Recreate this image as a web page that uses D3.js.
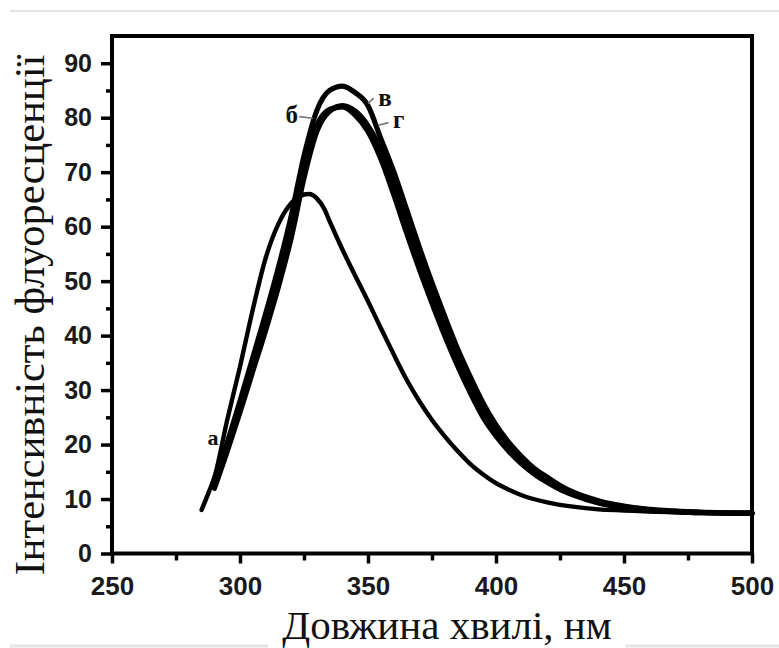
<!DOCTYPE html>
<html><head><meta charset="utf-8">
<script src="https://cdn.jsdelivr.net/npm/d3@7"></script>
<style>html,body{margin:0;padding:0;background:#fff;}svg{display:block;}</style>
</head><body>
<svg id="chart" width="779" height="648"></svg>
<script>
// ---- data ----
const xTicks = [250, 300, 350, 400, 450, 500];
const xMinor = [275, 325, 375, 425, 475];
const yTicks = [0, 10, 20, 30, 40, 50, 60, 70, 80, 90];
const yMinor = [5, 15, 25, 35, 45, 55, 65, 75, 85];
const xTitle = "Довжина хвилі, нм";
const yTitle = "Інтенсивність флуоресценції";

const wlA   = [285, 288, 290, 295, 300, 305, 310, 315, 320, 325, 327, 330, 333, 335, 340, 345, 350, 355, 360, 365, 370, 375, 380, 385, 390, 395, 400, 405, 410, 420, 430, 440, 450, 460, 480, 500];
const valA  = [8.0, 11.5, 14.0, 24.5, 34.3, 44.8, 54.2, 60.5, 64.3, 65.9, 66.0, 65.2, 63.2, 61.0, 55.8, 51.0, 46.3, 41.4, 36.6, 32.0, 28.0, 24.5, 21.5, 18.8, 16.4, 14.5, 12.9, 11.7, 10.7, 9.4, 8.6, 8.1, 7.9, 7.7, 7.5, 7.4];

const wlB   = [290, 295, 300, 305, 310, 315, 320, 325, 330, 335, 340, 345, 350, 355, 360, 365, 370, 375, 380, 385, 390, 395, 400, 405, 410, 415, 420, 425, 430, 440, 450, 460, 470, 480, 500];
const valB  = [12.5, 19.5, 27.0, 34.5, 42.0, 50.0, 59.0, 70.0, 78.5, 81.5, 82.0, 80.5, 77.5, 72.5, 66.0, 59.0, 52.3, 46.0, 40.0, 34.5, 29.5, 25.0, 21.6, 18.8, 16.5, 14.6, 13.1, 11.8, 10.8, 9.3, 8.4, 7.9, 7.7, 7.5, 7.4];
const valG  = [12.0, 18.8, 26.0, 33.5, 41.0, 49.0, 58.0, 69.0, 77.5, 81.2, 82.2, 81.2, 78.5, 74.2, 68.3, 61.4, 54.5, 48.0, 41.9, 36.3, 31.2, 26.5, 22.7, 19.7, 17.3, 15.2, 13.6, 12.2, 11.1, 9.5, 8.6, 8.0, 7.7, 7.5, 7.4];
const valV  = [13.0, 20.3, 28.0, 36.0, 44.0, 52.5, 62.0, 73.0, 81.3, 85.0, 85.8, 84.6, 82.2, 76.2, 70.2, 63.3, 56.3, 49.7, 43.5, 37.6, 32.4, 27.6, 23.6, 20.4, 17.8, 15.6, 14.0, 12.5, 11.3, 9.7, 8.7, 8.1, 7.8, 7.6, 7.4];

const labels = [
  {text: "а", x: 289.5, y: 21.3, size: 22},
  {text: "б", x: 320.2, y: 80.6, size: 25},
  {text: "в", x: 356.6, y: 83.8, size: 25},
  {text: "г", x: 362.0, y: 79.7, size: 25}
];
const leaders = [
  {x1: 323.2, y1: 80.2, x2: 328.4, y2: 79.9},
  {x1: 350.0, y1: 82.6, x2: 352.2, y2: 83.6},
  {x1: 354.0, y1: 78.6, x2: 358.0, y2: 79.1}
];

// ---- drawing ----
const svg = d3.select("#chart");
const x = d3.scaleLinear().domain([250, 500]).range([112, 752]);
const y = d3.scaleLinear().domain([0, 95]).range([553.5, 36]);

// faint scan lines
svg.append("line").attr("x1", 10).attr("x2", 779).attr("y1", 11).attr("y2", 11)
  .attr("stroke", "#e4e4e4").attr("stroke-width", 2);
svg.append("line").attr("x1", 10).attr("x2", 779).attr("y1", 646).attr("y2", 646)
  .attr("stroke", "#e4e4e4").attr("stroke-width", 3);

const line = d3.line().curve(d3.curveMonotoneX).x(d => x(d[0])).y(d => y(d[1]));
const curves = [
  {wl: wlA, v: valA, w: 4.4},
  {wl: wlB, v: valB, w: 5.4},
  {wl: wlB, v: valG, w: 5.4},
  {wl: wlB, v: valV, w: 5.2}
];
svg.append("g").selectAll("path").data(curves).join("path")
  .attr("d", c => line(c.wl.map((w, i) => [w, c.v[i]])))
  .attr("fill", "none").attr("stroke", "#000")
  .attr("stroke-width", c => c.w).attr("stroke-linejoin", "round").attr("stroke-linecap", "round");

// leaders
svg.append("g").selectAll("line").data(leaders).join("line")
  .attr("x1", d => x(d.x1)).attr("y1", d => y(d.y1))
  .attr("x2", d => x(d.x2)).attr("y2", d => y(d.y2))
  .attr("stroke", "#777").attr("stroke-width", 1.6);

svg.append("g").selectAll("text").data(labels).join("text")
  .attr("x", d => x(d.x)).attr("y", d => y(d.y))
  .attr("text-anchor", "middle").attr("dominant-baseline", "central")
  .attr("font-family", "Liberation Serif, serif").attr("font-weight", "bold")
  .attr("font-size", d => d.size).attr("fill", "#111")
  .text(d => d.text);

// axes
const tickFont = "Liberation Sans, Arial, sans-serif";
const xAxis = svg.append("g").attr("transform", `translate(0,${y(0)})`)
  .call(d3.axisBottom(x).tickValues(xTicks).tickSize(10).tickPadding(13).tickFormat(d3.format("d")));
const xAxisMinor = svg.append("g").attr("transform", `translate(0,${y(0)})`)
  .call(d3.axisBottom(x).tickValues(xMinor).tickSize(7).tickFormat(""));
const yAxis = svg.append("g").attr("transform", `translate(${x(250)},0)`)
  .call(d3.axisLeft(y).tickValues(yTicks).tickSize(11).tickPadding(9).tickFormat(d3.format("d")));
const yAxisMinor = svg.append("g").attr("transform", `translate(${x(250)},0)`)
  .call(d3.axisLeft(y).tickValues(yMinor).tickSize(6).tickFormat(""));
[xAxis, xAxisMinor, yAxis, yAxisMinor].forEach(g => {
  g.select(".domain").remove();
  g.selectAll(".tick line").attr("stroke", "#000").attr("stroke-width", 3.5);
  g.selectAll(".tick text").attr("font-family", tickFont).attr("font-weight", "bold")
    .attr("fill", "#1a1a1a");
});
xAxis.selectAll(".tick text").attr("font-size", 26);
yAxis.selectAll(".tick text").attr("font-size", 25);

// frame
svg.append("rect").attr("x", x(250)).attr("y", y(95))
  .attr("width", x(500) - x(250)).attr("height", y(0) - y(95))
  .attr("fill", "none").attr("stroke", "#000").attr("stroke-width", 4);

// titles
const bg = svg.append("rect").attr("fill", "#fff");
const xt = svg.append("text").attr("x", 447).attr("y", 639)
  .attr("text-anchor", "middle").attr("font-family", "Liberation Serif, serif")
  .attr("font-size", 41).attr("fill", "#111").text(xTitle);
const bb = xt.node().getBBox();
bg.attr("x", bb.x - 14).attr("y", 630).attr("width", bb.width + 28).attr("height", 18);
svg.append("text").attr("transform", "translate(44,315) rotate(-90)")
  .attr("text-anchor", "middle").attr("font-family", "Liberation Serif, serif")
  .attr("font-size", 42.5).attr("fill", "#111").text(yTitle);
</script>
</body></html>
